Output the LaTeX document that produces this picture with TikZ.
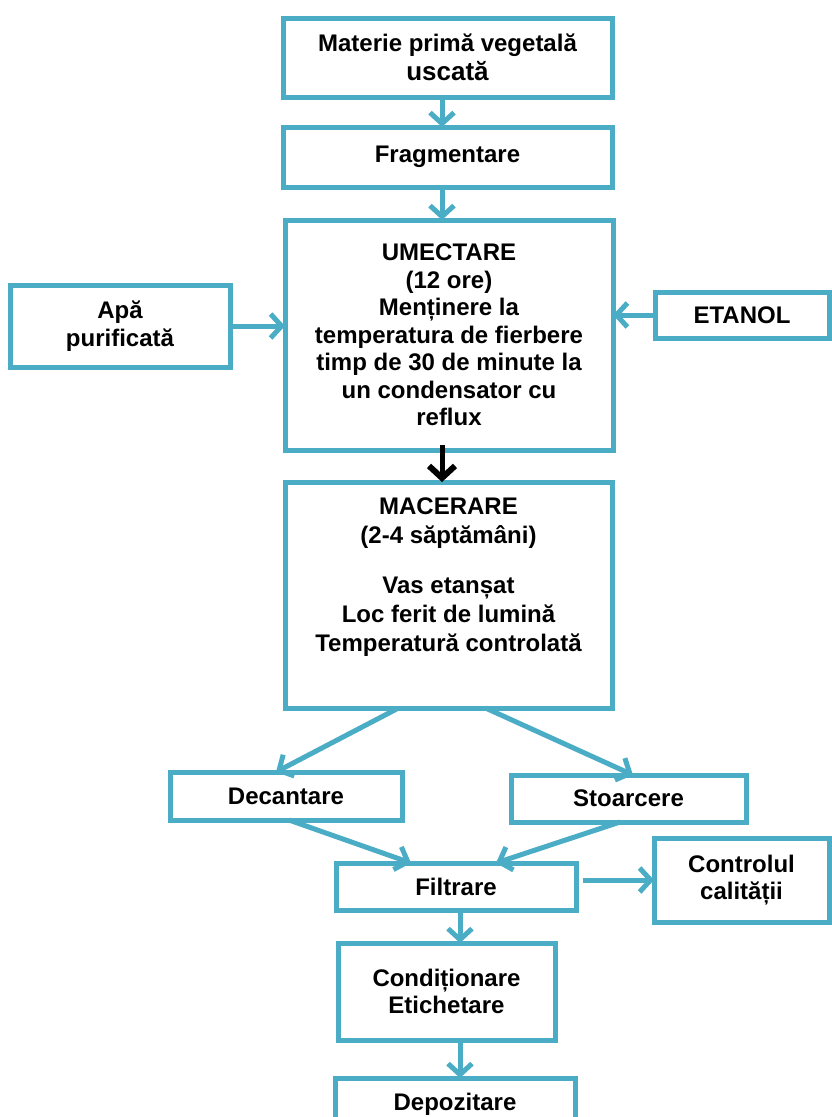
\documentclass[tikz,border=0pt]{standalone}
\usepackage{fontspec}
\setmainfont{Liberation Sans}
\usetikzlibrary{arrows.meta}
\definecolor{boxblue}{RGB}{75,172,198}

\begin{document}
\begin{tikzpicture}[x=1pt, y=-1pt,
        box/.style={draw=boxblue, line width=5pt, inner sep=0pt, outer sep=0pt, align=center,
            font=\fontsize{24}{27.5}\selectfont\bfseries},
        flow/.style={draw=boxblue, line width=5pt,
            -{Straight Barb[length=11pt,width=24pt,line width=5pt]}},
        darkflow/.style={draw=black, line width=5pt,
            -{Straight Barb[length=12pt,width=26pt,line width=6pt]}}]
    \useasboundingbox (0,0) rectangle (832,1117);
    \clip (0,0) rectangle (832,1117);

    % main column
    \node[box, minimum width=329pt, minimum height=79pt] (mat) at (447.5,57.5)
        {Materie primă vegetală\\[2pt]{\fontsize{26}{29}\selectfont uscată}};
    \node[box, minimum width=329pt, minimum height=60pt] (frag) at (447.5,157) {Fragmentare};
    \node[box, minimum width=328pt, minimum height=230pt] (umect) at (449,335)
        {UMECTARE\\(12 ore)\\Menținere la\\temperatura de fierbere\\timp de 30 de minute la\\un condensator cu\\reflux};
    \node[box, minimum width=327pt, minimum height=226pt] (macer) at (448.5,595) {};
    \node[box, draw=none, anchor=north, font=\fontsize{24}{29}\selectfont\bfseries] (macertxt) at (448.5,498)
        {MACERARE\\(2-4 săptămâni)\\[21pt]Vas etanșat\\Loc ferit de lumină\\Temperatură controlată};

    % side inputs
    \node[box, minimum width=220pt, minimum height=82pt] (apa) at (120,326) {Apă\\purificată};
    \node[box, minimum width=174pt, minimum height=46pt] (etan) at (742,315) {ETANOL};

    % separation
    \node[box, minimum width=232pt, minimum height=48pt] (decan) at (286,796) {Decantare};
    \node[box, minimum width=235pt, minimum height=47pt] (stoar) at (628.5,798.5) {Stoarcere};
    \node[box, minimum width=240pt, minimum height=47pt] (filtr) at (456,886.5) {Filtrare};
    \node[box, minimum width=175pt, minimum height=84pt] (contr) at (741.5,880) {Controlul\\calității};
    \node[box, minimum width=217pt, minimum height=97pt] (cond) at (446.5,991.5) {Condiționare\\Etichetare};
    \node[box, minimum width=240pt, minimum height=52pt] (depoz) at (455,1104) {Depozitare};

    % connectors
    \coordinate (ma) at ([xshift=-5.5pt]mat.south);
    \coordinate (fa) at ([xshift=-5.5pt]frag.south);
    \coordinate (ua) at ([xshift=-7pt,yshift=5pt]umect.south);
    \coordinate (fi) at ([xshift=4pt]filtr.south);
    \coordinate (ca) at ([xshift=13.5pt]cond.south);
    \coordinate (fc) at ([xshift=7pt]filtr.east);

    \draw[flow] (ma) -- (ma |- frag.north);
    \draw[flow] (fa) -- (fa |- umect.north);
    \draw[flow] (apa.east) -- (apa.east -| umect.west);
    \draw[flow] (etan.west) -- (etan.west -| umect.east);
    \draw[darkflow] (ua) -- (ua |- macer.north);

    \draw[flow] ([xshift=-50pt]macer.south) -- ([xshift=-10pt]decan.north);
    \draw[flow] ([xshift=37pt]macer.south) -- ([xshift=4.5pt]stoar.north);
    \draw[flow] ([xshift=3pt]decan.south) -- ([xshift=-45pt]filtr.north);
    \draw[flow] ([xshift=-8.5pt]stoar.south) -- ([xshift=40pt]filtr.north);
    \draw[flow] (fc |- contr.west) -- (contr.west);
    \draw[flow] (fi) -- (fi |- cond.north);
    \draw[flow] (ca) -- (ca |- depoz.north);
\end{tikzpicture}
\end{document}
